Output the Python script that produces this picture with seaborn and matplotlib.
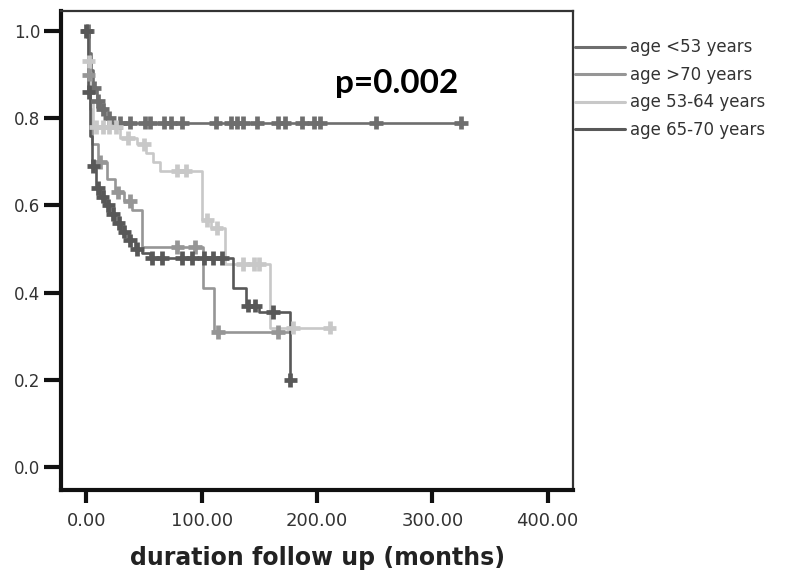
import numpy as np
import pandas as pd
import matplotlib
matplotlib.use("Agg")
import matplotlib.pyplot as plt
import seaborn as sns

groups = ["age <53 years", "age >70 years", "age 53-64 years", "age 65-70 years"]
colors = ["#6e6e6e", "#969696", "#c8c8c8", "#585858"]

# age <53
t_lt53 = [0, 2, 4, 6, 9, 12, 16, 22, 325]
s_lt53 = [1.0, 0.95, 0.91, 0.87, 0.84, 0.82, 0.80, 0.79, 0.79]
c_lt53 = [1, 7, 10, 14, 20, 29, 38, 51, 55, 67, 73, 83, 112, 125, 131, 136,
          148, 166, 172, 187, 197, 203, 251, 325]
# age >70
t_gt70 = [0, 1, 3, 5, 10, 18, 25, 33, 40, 48, 101, 111, 177]
s_gt70 = [1.0, 0.90, 0.82, 0.74, 0.70, 0.66, 0.63, 0.61, 0.59, 0.505, 0.41, 0.31, 0.31]
c_gt70 = [2, 12, 27, 38, 79, 94, 114, 166]
# age 53-64
t_5364 = [0, 1, 3, 6, 29, 44, 52, 58, 64, 100, 108, 120, 159, 215]
s_5364 = [1.0, 0.93, 0.84, 0.78, 0.755, 0.74, 0.72, 0.70, 0.68, 0.566, 0.548,
          0.466, 0.32, 0.32]
c_5364 = [2, 8, 14, 20, 26, 36, 50, 79, 86, 105, 113, 136, 145, 150, 179, 211]
# age 65-70
t_6570 = [0, 1, 3, 5, 8, 12, 16, 20, 25, 30, 36, 42, 48, 55, 127, 138, 150, 177]
s_6570 = [1.0, 0.86, 0.76, 0.69, 0.64, 0.62, 0.60, 0.58, 0.56, 0.54, 0.52, 0.50,
          0.49, 0.48, 0.41, 0.37, 0.355, 0.20]
c_6570 = [0, 2, 6, 10, 14, 19, 23, 28, 33, 38, 44, 57, 66, 83, 92, 102, 110, 118,
          140, 146, 162, 177]

x_ticks = [0, 100, 200, 300, 400]
x_ticklabels = ["0.00", "100.00", "200.00", "300.00", "400.00"]
y_ticks = [0.0, 0.2, 0.4, 0.6, 0.8, 1.0]

series = [(t_lt53, s_lt53, c_lt53), (t_gt70, s_gt70, c_gt70),
          (t_5364, s_5364, c_5364), (t_6570, s_6570, c_6570)]

line_rows, cens_rows = [], []
for g, (t, s, c) in zip(groups, series):
    for ti, si in zip(t, s):
        line_rows.append((g, ti, si))
    ta = np.array(t); sa = np.array(s)
    for ci in c:
        idx = np.searchsorted(ta, ci, side="right") - 1
        cens_rows.append((g, ci, sa[idx]))
lines = pd.DataFrame(line_rows, columns=["group", "time", "surv"])
cens = pd.DataFrame(cens_rows, columns=["group", "time", "surv"])

sns.set_style("white")
plt.rcParams["font.family"] = ["DejaVu Sans"]

fig = plt.figure(figsize=(7.89, 5.74), dpi=100)
ax = fig.add_axes([0.0773, 0.146, 0.6490, 0.835])
pal = dict(zip(groups, colors))

sns.lineplot(data=lines, x="time", y="surv", hue="group", hue_order=groups,
             palette=pal, estimator=None, sort=False, drawstyle="steps-post",
             linewidth=1.9, ax=ax, legend=True)
sns.scatterplot(data=cens, x="time", y="surv", hue="group", hue_order=groups,
                palette=pal, marker="+", s=95, linewidth=3.4, ax=ax,
                legend=False, zorder=3)

ax.set_xlim(-22, 422)
ax.set_ylim(-0.053, 1.046)
ax.set_xticks(x_ticks)
ax.set_xticklabels(x_ticklabels)
ax.set_yticks(y_ticks)
ax.set_yticklabels([f"{v:.1f}" for v in y_ticks])
ax.tick_params(axis="both", bottom=True, left=True, direction="out", width=3,
               labelcolor="#333333", color="#111111")
ax.tick_params(axis="x", length=9, labelsize=13, pad=7)
ax.tick_params(axis="y", length=12, labelsize=12, pad=3)
for side in ["left", "bottom"]:
    ax.spines[side].set_linewidth(3.0)
    ax.spines[side].set_color("#111111")
for side in ["top", "right"]:
    ax.spines[side].set_linewidth(1.6)
    ax.spines[side].set_color("#333333")
ax.set_ylabel("")
ax.set_xlabel("duration follow up (months)", fontsize=17, fontweight="bold",
              color="#222222", labelpad=11)

ax.text(0.535, 0.829, "p=0.002", transform=ax.transAxes, fontsize=24,
        fontweight="bold", family=["Lato", "DejaVu Sans"], color="black")

leg = ax.legend(loc="upper left", bbox_to_anchor=(0.7288, 0.933),
                bbox_transform=fig.transFigure, frameon=False,
                fontsize=12, handlelength=3.0, handletextpad=0.3,
                labelspacing=0.57, borderaxespad=0, borderpad=0)
for t in leg.get_texts():
    t.set_color("#333333")
for h in leg.get_lines():
    h.set_linewidth(2.2)

fig.savefig("out.png", dpi=100)
